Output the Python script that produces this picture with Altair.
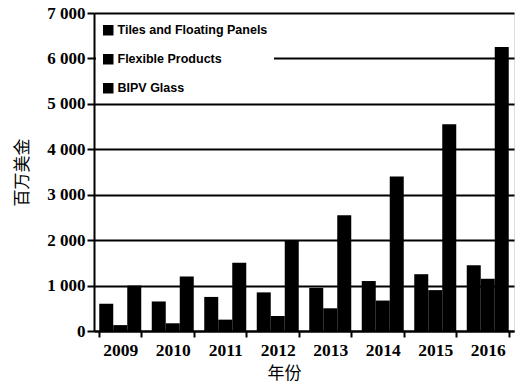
import altair as alt
import pandas as pd

years = ["2009", "2010", "2011", "2012", "2013", "2014", "2015", "2016"]
tiles = [600, 650, 750, 850, 950, 1100, 1250, 1450]
flexible = [130, 170, 250, 330, 500, 670, 900, 1150]
bipv = [1000, 1200, 1500, 2000, 2550, 3400, 4550, 6250]
series = ["Tiles and Floating Panels", "Flexible Products", "BIPV Glass"]

rows = []
for i, y in enumerate(years):
    for s, vals in zip(series, [tiles, flexible, bipv]):
        rows.append({"year": y, "series": s, "value": vals[i]})
df = pd.DataFrame(rows)

serif = "Liberation Serif"
cjk = "Noto Sans CJK SC"

chart = alt.Chart(df).mark_bar(color="black").encode(
    x=alt.X("year:N", sort=years,
            scale=alt.Scale(paddingInner=0.2, paddingOuter=0.1),
            axis=alt.Axis(title="年份", labelAngle=0, labelFont=serif, labelFontWeight="bold",
                          labelFontSize=17.5, labelColor="black", labelPadding=4,
                          tickBand="extent", tickColor="black", tickWidth=2, tickSize=6,
                          domainColor="black", domainWidth=2,
                          titleFont=cjk, titleFontSize=17, titleFontWeight="normal",
                          titleColor="black", titlePadding=7, titleX=190)),
    xOffset=alt.XOffset("series:N", sort=series, scale=alt.Scale(paddingInner=0, paddingOuter=0)),
    y=alt.Y("value:Q", scale=alt.Scale(domain=[0, 7000]),
            axis=alt.Axis(title="百万美金", values=[0, 1000, 2000, 3000, 4000, 5000, 6000, 7000],
                          labelExpr="replace(format(datum.value, ','), ',', ' ')",
                          labelFont=serif, labelFontWeight="bold", labelFontSize=17,
                          labelColor="black", labelPadding=2,
                          grid=True, gridColor="black", gridWidth=2,
                          tickColor="black", tickWidth=2, tickSize=7,
                          domainColor="black", domainWidth=2,
                          titleFont=cjk, titleFontSize=17, titleFontWeight="normal",
                          titleColor="black", titlePadding=15)),
    color=alt.Color("series:N", sort=series,
                    scale=alt.Scale(domain=series, range=["black", "black", "black"]),
                    legend=alt.Legend(title=None, orient="none", legendX=2, legendY=5,
                                      fillColor="white", padding=6, symbolType="square",
                                      symbolSize=110, symbolStrokeWidth=0,
                                      labelFont="Liberation Sans", labelFontWeight="bold",
                                      labelFontSize=12.5, labelColor="black", rowPadding=16,
                                      labelOffset=3, labelLimit=300)),
).properties(
    width=420, height=318,
    autosize=alt.AutoSizeParams(type="none"),
    padding={"left": 94, "top": 13, "right": 3, "bottom": 56},
).configure_view(stroke=None).configure(background="white")

chart.save("out.html", embed_options={"renderer": "svg", "actions": False})
